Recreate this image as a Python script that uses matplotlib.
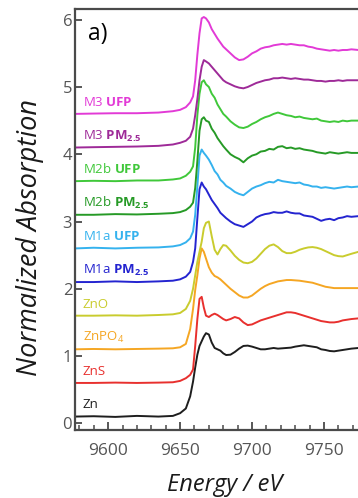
import matplotlib
matplotlib.use("Agg")
import matplotlib.pyplot as plt
from matplotlib.ticker import MultipleLocator

plt.rcParams['font.family'] = ['Open Sans', 'DejaVu Sans']
plt.rcParams['mathtext.fontset'] = 'custom'
plt.rcParams['mathtext.rm'] = 'Open Sans'
plt.rcParams['mathtext.it'] = 'Open Sans:italic'
plt.rcParams['mathtext.bf'] = 'Open Sans:bold'

# Photon energy grid (eV), shared by all spectra
energy = [9577, 9590, 9605, 9620, 9635, 9645, 9650, 9654, 9657, 9659, 9660.5, 9662,
          9663.5, 9665, 9666.5, 9668, 9670, 9672, 9674, 9676, 9678, 9680, 9682, 9685,
          9688, 9691, 9694, 9697, 9700, 9703, 9706, 9709, 9712, 9715, 9718, 9721, 9724,
          9727, 9730, 9733, 9736, 9739, 9742, 9745, 9748, 9751, 9754, 9757, 9760, 9763,
          9766, 9769, 9774]

# Normalized Zn K-edge XANES spectra
zn = [0.0, 0.005, -0.005, 0.01, 0.0, 0.01, 0.05, 0.12, 0.30, 0.52, 0.73, 0.92,
      1.05, 1.12, 1.19, 1.24, 1.22, 1.10, 1.02, 1.0, 0.98, 0.94, 0.915, 0.92,
      0.96, 1.01, 1.05, 1.055, 1.04, 1.02, 1.0, 1.0, 1.01, 1.02, 1.01, 1.015, 1.02,
      1.025, 1.04, 1.05, 1.06, 1.05, 1.04, 1.03, 1.0, 0.99, 0.975, 0.97, 0.98, 0.99,
      1.0, 1.01, 1.02]
zns = [0.0, 0.0, 0.005, 0.0, 0.005, 0.01, 0.03, 0.07, 0.12, 0.2, 0.55, 0.95,
       1.25, 1.28, 1.12, 1.0, 0.98, 1.01, 1.03, 1.01, 0.98, 0.95, 0.93, 0.95,
       0.98, 0.96, 0.9, 0.86, 0.87, 0.9, 0.93, 0.95, 0.97, 0.99, 1.01, 1.03, 1.05,
       1.05, 1.04, 1.02, 1.0, 0.98, 0.96, 0.94, 0.92, 0.91, 0.9, 0.9, 0.91, 0.93,
       0.94, 0.95, 0.96]
znpo4 = [0.0, 0.005, 0.0, 0.005, 0.01, 0.015, 0.03, 0.08, 0.3, 0.6, 0.88, 1.1,
         1.35, 1.5, 1.45, 1.35, 1.22, 1.14, 1.09, 1.07, 1.04, 1.0, 0.96, 0.9,
         0.85, 0.80, 0.77, 0.77, 0.80, 0.85, 0.9, 0.94, 0.97, 0.99, 1.01, 1.02, 1.03,
         1.03, 1.025, 1.02, 1.01, 1.0, 0.99, 0.97, 0.95, 0.93, 0.92, 0.91, 0.91, 0.91,
         0.91, 0.91, 0.91]
zno = [0.0, 0.0, 0.005, 0.0, 0.01, 0.02, 0.04, 0.1, 0.22, 0.4, 0.6, 0.8,
       0.95, 1.1, 1.3, 1.38, 1.40, 1.18, 0.98, 0.91, 0.99, 1.05, 1.04, 0.97,
       0.89, 0.83, 0.79, 0.78, 0.80, 0.85, 0.92, 0.99, 1.04, 1.06, 1.02, 0.96, 0.93,
       0.93, 0.95, 0.98, 1.0, 1.015, 1.02, 1.01, 0.99, 0.96, 0.93, 0.9, 0.885, 0.88,
       0.9, 0.92, 0.95]
m1a_pm25 = [0.0, 0.0, 0.01, 0.0, 0.01, 0.02, 0.04, 0.08, 0.15, 0.3, 0.5, 0.95,
            1.38, 1.48, 1.42, 1.38, 1.3, 1.22, 1.16, 1.1, 1.03, 0.99, 0.95, 0.9,
            0.86, 0.84, 0.82, 0.86, 0.9, 0.96, 0.99, 1.01, 1.02, 1.04, 1.03, 1.03, 1.05,
            1.03, 1.02, 1.02, 0.99, 0.98, 0.97, 0.94, 0.91, 0.93, 0.94, 0.92, 0.95, 0.96,
            0.98, 0.97, 0.98]
m1a_ufp = [0.0, 0.01, 0.0, 0.01, 0.015, 0.03, 0.05, 0.09, 0.15, 0.25, 0.5, 0.92,
           1.38, 1.47, 1.42, 1.38, 1.32, 1.24, 1.15, 1.1, 1.02, 0.98, 0.93, 0.89,
           0.84, 0.81, 0.79, 0.84, 0.89, 0.92, 0.94, 0.97, 0.99, 0.98, 1.02, 1.0, 0.99,
           0.98, 0.97, 0.98, 0.95, 0.94, 0.92, 0.92, 0.9, 0.91, 0.9, 0.89, 0.9, 0.91,
           0.92, 0.91, 0.92]
m2b_pm25 = [0.0, 0.0, 0.01, 0.005, 0.015, 0.025, 0.04, 0.07, 0.12, 0.18, 0.4, 0.8,
            1.25, 1.42, 1.45, 1.40, 1.38, 1.28, 1.22, 1.14, 1.08, 1.02, 0.97, 0.9,
            0.86, 0.83, 0.78, 0.84, 0.88, 0.9, 0.94, 0.95, 0.98, 0.97, 1.01, 1.02, 0.99,
            1.0, 0.98, 0.99, 0.97, 0.96, 0.95, 0.93, 0.92, 0.91, 0.93, 0.92, 0.91, 0.92,
            0.93, 0.92, 0.92]
m2b_ufp = [0.0, 0.005, 0.0, 0.01, 0.01, 0.025, 0.04, 0.08, 0.14, 0.22, 0.5, 0.98,
           1.3, 1.47, 1.5, 1.44, 1.40, 1.3, 1.24, 1.14, 1.07, 1.0, 0.96, 0.89,
           0.84, 0.8, 0.79, 0.81, 0.85, 0.88, 0.92, 0.95, 0.97, 1.0, 1.02, 1.0, 0.98,
           0.97, 0.95, 0.96, 0.94, 0.93, 0.92, 0.93, 0.9, 0.89, 0.88, 0.89, 0.88, 0.9,
           0.89, 0.9, 0.9]
m3_pm25 = [0.0, 0.005, 0.01, 0.015, 0.025, 0.045, 0.07, 0.1, 0.16, 0.28, 0.48, 0.72,
           1.0, 1.2, 1.3, 1.28, 1.25, 1.2, 1.15, 1.1, 1.05, 1.0, 0.97, 0.94,
           0.91, 0.89, 0.88, 0.9, 0.93, 0.96, 0.98, 1.0, 1.01, 1.03, 1.03, 1.04, 1.03,
           1.02, 1.03, 1.02, 1.01, 1.01, 1.0, 0.99, 0.99, 0.98, 0.99, 0.99, 1.0, 0.99,
           1.0, 1.0, 1.0]
m3_ufp = [0.0, 0.005, 0.01, 0.01, 0.02, 0.04, 0.06, 0.1, 0.17, 0.26, 0.5, 0.88,
          1.2, 1.42, 1.44, 1.42, 1.36, 1.26, 1.19, 1.12, 1.06, 1.0, 0.96, 0.9,
          0.84, 0.8, 0.81, 0.85, 0.9, 0.93, 0.97, 0.99, 1.0, 1.02, 1.03, 1.04, 1.03,
          1.04, 1.03, 1.02, 1.02, 1.0, 0.99, 0.97, 0.96, 0.95, 0.94, 0.95, 0.94, 0.95,
          0.95, 0.96, 0.95]

# Bottom-to-top stacking order
spectra = [zn, zns, znpo4, zno, m1a_pm25, m1a_ufp, m2b_pm25, m2b_ufp, m3_pm25, m3_ufp]
labels = ["Zn", "ZnS", r"ZnPO$_4$", "ZnO",
          r"M1a $\mathbf{PM_{2.5}}$", r"M1a $\mathbf{UFP}$",
          r"M2b $\mathbf{PM_{2.5}}$", r"M2b $\mathbf{UFP}$",
          r"M3 $\mathbf{PM_{2.5}}$", r"M3 $\mathbf{UFP}$"]
colors = ["#1e1e1e", "#e8302e", "#f5a623", "#c9cc2e", "#2424d0",
          "#35b2ee", "#269a26", "#40c83a", "#9e2a98", "#e23ad6"]
offsets = [0.1, 0.6, 1.1, 1.6, 2.1, 2.6, 3.1, 3.6, 4.1, 4.6]

fig = plt.figure(figsize=(3.58, 4.98), dpi=100)
ax = fig.add_axes([0.2095, 0.1365, 0.7905, 0.8455])

for y, lab, c, off in zip(spectra, labels, colors, offsets):
    ax.plot(energy, [v + off for v in y], color=c, lw=1.4)
    ax.text(9582.5, off + 0.12, lab, color=c, fontsize=9.5, va='baseline', ha='left')

ax.set_xlim(9577, 9773.6)
ax.set_ylim(-0.1, 6.16)
ax.xaxis.set_major_locator(MultipleLocator(50))
ax.xaxis.set_minor_locator(MultipleLocator(10))
ax.yaxis.set_major_locator(MultipleLocator(1))

for side in ('left', 'top', 'bottom'):
    ax.spines[side].set_color('#4a4a4a')
    ax.spines[side].set_linewidth(1.6)
ax.spines['right'].set_visible(False)

ax.tick_params(axis='x', which='major', direction='in', length=6, width=1.3,
               color='#4a4a4a', labelsize=12.5, labelcolor='#555555', pad=9)
ax.tick_params(axis='x', which='minor', direction='in', length=3.5, width=1.1,
               color='#4a4a4a')
ax.tick_params(axis='y', which='major', direction='in', length=5, width=1.3,
               color='#4a4a4a', labelsize=12, labelcolor='#555555', pad=2)

ax.text(0.045, 0.97, "a)", transform=ax.transAxes, fontsize=16.5, va='top', ha='left')

fig.text(0.084, 0.524, "Normalized Absorption", rotation=90, style='italic',
         fontsize=19.5, ha='center', va='center', color='#1a1a1a')
fig.text(0.627, 0.026, "Energy / eV", style='italic', fontsize=17,
         ha='center', va='center', color='#1a1a1a')

fig.savefig("out.png", dpi=100)
